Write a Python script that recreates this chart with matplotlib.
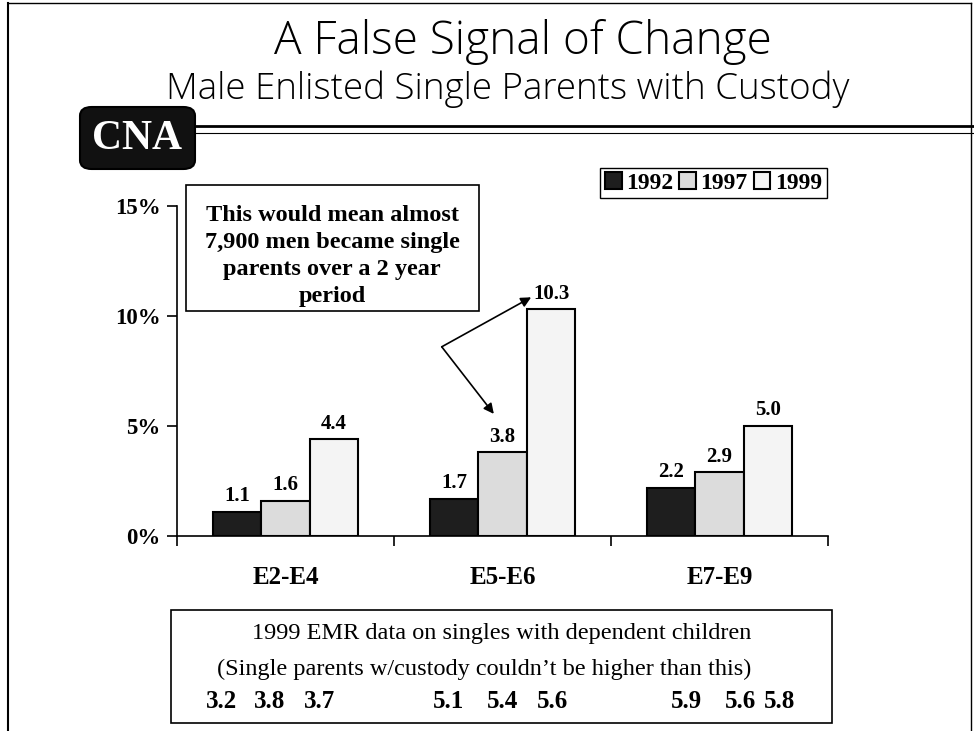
import matplotlib
matplotlib.use("Agg")
import matplotlib.pyplot as plt
from matplotlib.patches import FancyBboxPatch, Rectangle
from matplotlib.lines import Line2D
import numpy as np

# ---- data ----
categories = ["E2-E4", "E5-E6", "E7-E9"]
years = ["1992", "1997", "1999"]
values_1992 = [1.1, 1.7, 2.2]
values_1997 = [1.6, 3.8, 2.9]
values_1999 = [4.4, 10.3, 5.0]
yticks = [0, 5, 10, 15]
ytick_labels = ["0%", "5%", "10%", "15%"]
emr_values = [["3.2", "3.8", "3.7"], ["5.1", "5.4", "5.6"], ["5.9", "5.6", "5.8"]]

title = "A False Signal of Change"
subtitle = "Male Enlisted Single Parents with Custody"
note_text = "This would mean almost\n7,900 men became single\nparents over a 2 year\nperiod"
box_line1 = "1999 EMR data on singles with dependent children"
box_line2 = "(Single parents w/custody couldn\u2019t be higher than this)"

W, H = 974, 731
fig = plt.figure(figsize=(W / 100, H / 100), dpi=100)
fig.patch.set_facecolor("white")

def fx(px):
    return px / W

def fy(py):
    return 1 - py / H

serif = ["Liberation Serif", "DejaVu Serif"]
sans = ["Open Sans", "DejaVu Sans"]

# slide border
fig.add_artist(Line2D([fx(8), fx(8)], [0, fy(3)], color="black", lw=1.5))
fig.add_artist(Line2D([fx(8), fx(971)], [fy(3), fy(3)], color="black", lw=1.0))
fig.add_artist(Line2D([fx(971), fx(971)], [0, fy(3)], color="black", lw=1.0))

# titles
fig.text(fx(523), fy(54), title, ha="center", va="baseline", fontsize=33,
         family=sans, fontweight="light")
fig.text(fx(508), fy(99), subtitle, ha="center", va="baseline", fontsize=26.5,
         family=sans, fontweight="light")

# CNA logo
logo = FancyBboxPatch((fx(80), fy(169)), fx(115), fy(107) - fy(169),
                      boxstyle="round,pad=0.0,rounding_size=0.012",
                      transform=fig.transFigure, facecolor="#111111",
                      edgecolor="black", lw=1.5)
fig.add_artist(logo)
fig.text(fx(137), fy(139), "CNA", ha="center", va="center", color="white",
         fontsize=30, fontweight="bold", family=serif)

# double line
fig.add_artist(Line2D([fx(196), fx(974)], [fy(126), fy(126)], color="black", lw=2.0))
fig.add_artist(Line2D([fx(196), fx(974)], [fy(133), fy(133)], color="black", lw=0.8))

# ---- axes ----
ax_left, ax_right = 177, 828
y0_px, px_per = 536, 22.0
ax_top = y0_px - 15 * px_per
ax = fig.add_axes([fx(ax_left), fy(y0_px), fx(ax_right - ax_left), (y0_px - ax_top) / H])
ax.set_xlim(-0.5, len(categories) - 0.5)
ax.set_ylim(0, 15)

x = np.arange(len(categories))
bw = 0.224
series = [values_1992, values_1997, values_1999]
colors = ["#1e1e1e", "#dcdcdc", "#f4f4f4"]
bars_all = []
for i, (vals, col, yr) in enumerate(zip(series, colors, years)):
    bars = ax.bar(x + (i - 1) * bw, vals, bw, color=col, edgecolor="black",
                  lw=1.5, label=yr, zorder=3)
    bars_all.append(bars)
    for xi, v in zip(x + (i - 1) * bw, vals):
        ax.text(xi, v + 0.25, f"{v:.1f}", ha="center", va="bottom",
                fontsize=15, fontweight="bold", family=serif)

for s in ["top", "right"]:
    ax.spines[s].set_visible(False)
ax.spines["left"].set_linewidth(1.2)
ax.spines["bottom"].set_linewidth(1.2)
ax.set_yticks(yticks)
ax.set_yticklabels(ytick_labels, fontsize=16.5, fontweight="bold", family=serif)
ax.tick_params(axis="y", length=7, width=1.2, pad=5)
ax.set_xticks(np.arange(len(categories) + 1) - 0.5)
ax.set_xticklabels([])
ax.tick_params(axis="x", length=7, width=1.2, direction="out")
for xi, c in zip(x, categories):
    ax.text(xi, -1.9, c, ha="center", va="center", fontsize=18,
            fontweight="bold", family=serif)

# legend
leg = fig.legend(handles=[b[0] for b in bars_all], labels=years, ncol=3,
                 loc="center", bbox_to_anchor=(fx(713.5), fy(183)),
                 prop={"family": serif, "weight": "bold", "size": 17},
                 handlelength=0.7, handleheight=0.7, handletextpad=0.2,
                 columnspacing=0.25, borderpad=0.2, fancybox=False,
                 edgecolor="black", framealpha=1)
leg.get_frame().set_linewidth(1.0)

# annotation box
fig.add_artist(Rectangle((fx(186), fy(311)), fx(479 - 186), fy(185) - fy(311),
                         transform=fig.transFigure, fc="white", ec="black", lw=1.2))
fig.text(fx(332), fy(256), note_text, ha="center", va="center", fontsize=17.5,
         fontweight="bold", family=serif, linespacing=1.37)

# arrows from a common vertex
vx, vy = 0.72, 8.6
ax.annotate("", xy=(x[1] + bw / 2 + 0.02, values_1999[1] + 0.55), xytext=(vx, vy),
            arrowprops=dict(arrowstyle="-|>", color="black", lw=1.2,
                            mutation_scale=15, shrinkA=0, shrinkB=0))
ax.annotate("", xy=(x[1] - 0.04, values_1997[1] + 1.75), xytext=(vx, vy),
            arrowprops=dict(arrowstyle="-|>", color="black", lw=1.2,
                            mutation_scale=15, shrinkA=0, shrinkB=0))

# bottom box
fig.add_artist(Rectangle((fx(171), fy(723)), fx(832 - 171), fy(610) - fy(723),
                         transform=fig.transFigure, fc="white", ec="black", lw=1.2))
fig.text(fx(502), fy(634), box_line1, ha="center", va="center", fontsize=17.5, family=serif)
fig.text(fx(484), fy(669), box_line2, ha="center", va="center", fontsize=17.5, family=serif)
num_x = [[222, 270, 320], [449, 503, 552], [686, 741, 780]]
for grp_vals, grp_x in zip(emr_values, num_x):
    for v, px in zip(grp_vals, grp_x):
        fig.text(fx(px), fy(702), v, ha="center", va="center", fontsize=18,
                 fontweight="bold", family=serif)

fig.savefig("out.png", dpi=100)
